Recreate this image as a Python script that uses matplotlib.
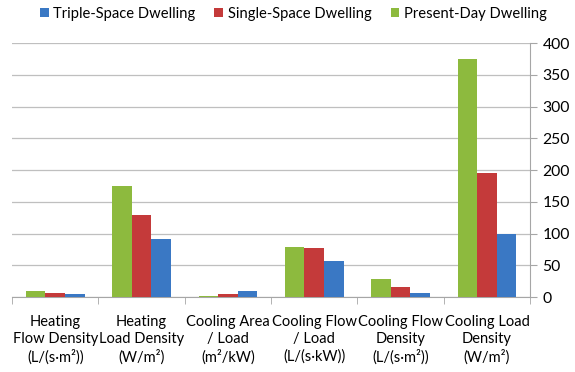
import numpy as np
import matplotlib.pyplot as plt

plt.rcParams['font.family'] = ['Lato', 'DejaVu Sans']

# ------------------------------
# Data
# ------------------------------
categories = [
    "Heating\nFlow Density\n(L/(s·m²))",
    "Heating\nLoad Density\n(W/m²)",
    "Cooling Area\n/ Load\n(m²/kW)",
    "Cooling Flow\n/ Load\n(L/(s·kW))",
    "Cooling Flow\nDensity\n(L/(s·m²))",
    "Cooling Load\nDensity\n(W/m²)",
]
present_day = [10, 175, 2, 78, 29, 375]
single_space = [7, 129, 4, 77, 15, 196]
triple_space = [5, 92, 10, 57, 6, 100]

series_names = ["Triple-Space Dwelling", "Single-Space Dwelling", "Present-Day Dwelling"]
colors = {"green": "#8DBA3E", "red": "#C43A3A", "blue": "#3A78C4"}

# ------------------------------
# Plot
# ------------------------------
fig = plt.figure(figsize=(5.75, 3.72), dpi=100)
ax = fig.add_axes([0.021, 0.2016, 0.901, 0.6828])

x = np.arange(len(categories))
w = 0.227
b_green = ax.bar(x - w, present_day, w, color=colors["green"], zorder=3)
b_red = ax.bar(x, single_space, w, color=colors["red"], zorder=3)
b_blue = ax.bar(x + w, triple_space, w, color=colors["blue"], zorder=3)

ax.set_xlim(-0.5, len(categories) - 0.5)
ax.set_ylim(0, 400)
ax.set_yticks(np.arange(0, 401, 50))
ax.yaxis.tick_right()
ax.yaxis.grid(True, color="#BFBFBF", linewidth=0.9, zorder=0)

ax.set_xticks(x)
ax.set_xticklabels(categories, fontsize=10.5, linespacing=1.27)
ax.set_xticks(np.arange(-0.5, len(categories)), minor=True)
ax.tick_params(axis="x", which="major", length=0, pad=13)
ax.tick_params(axis="x", which="minor", length=5, color="#A6A6A6")
ax.tick_params(axis="y", labelsize=11.3, length=5, color="#A6A6A6", pad=4)

for side in ["top", "left"]:
    ax.spines[side].set_visible(False)
for side in ["bottom", "right"]:
    ax.spines[side].set_color("#A6A6A6")

fig.legend([b_blue, b_red, b_green], series_names, loc="upper center",
           bbox_to_anchor=(0.51, 1.018), ncol=3, frameon=False,
           fontsize=10.6, handlelength=0.6, handleheight=0.6,
           handletextpad=0.3, columnspacing=1.3)

fig.savefig("out.png", dpi=100)
